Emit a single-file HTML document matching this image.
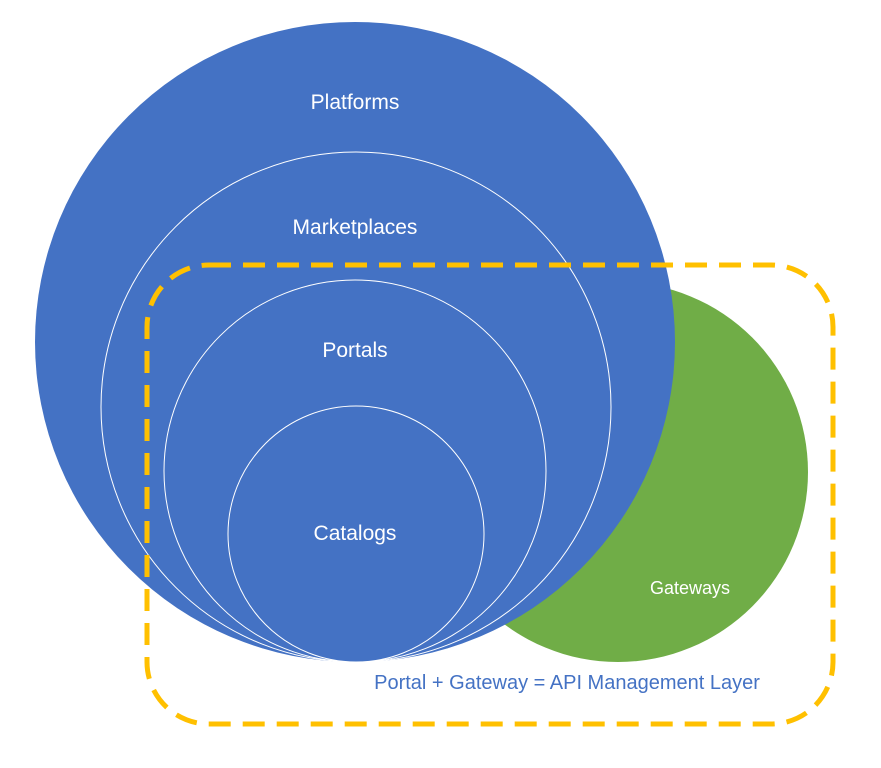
<!DOCTYPE html>
<html><head><meta charset="utf-8"><style>
html,body{margin:0;padding:0;background:#fff;}
</style></head><body>
<svg width="881" height="763" viewBox="0 0 881 763" xmlns="http://www.w3.org/2000/svg" font-family="Liberation Sans, sans-serif">
<rect width="881" height="763" fill="#fff"/>
<circle cx="618" cy="472" r="190" fill="#70AD47"/>
<circle cx="355" cy="342" r="320" fill="#4472C4"/>
<circle cx="356" cy="407" r="255" fill="#4472C4" stroke="#fff" stroke-width="1"/>
<circle cx="355" cy="471" r="191" fill="#4472C4" stroke="#fff" stroke-width="1"/>
<circle cx="356" cy="534" r="128" fill="#4472C4" stroke="#fff" stroke-width="1"/>
<rect x="147" y="265" width="686" height="459" rx="62" ry="62" fill="none" stroke="#FFC000" stroke-width="5" stroke-dasharray="22 12"/>
<g fill="#fff" font-size="21" text-anchor="middle">
<text x="355" y="109">Platforms</text>
<text x="355" y="234">Marketplaces</text>
<text x="355" y="357">Portals</text>
<text x="355" y="540">Catalogs</text>
<text x="690" y="594" font-size="18">Gateways</text>
</g>
<text x="567" y="689" fill="#4472C4" font-size="20" text-anchor="middle">Portal + Gateway = API Management Layer</text>
</svg>
</body></html>
